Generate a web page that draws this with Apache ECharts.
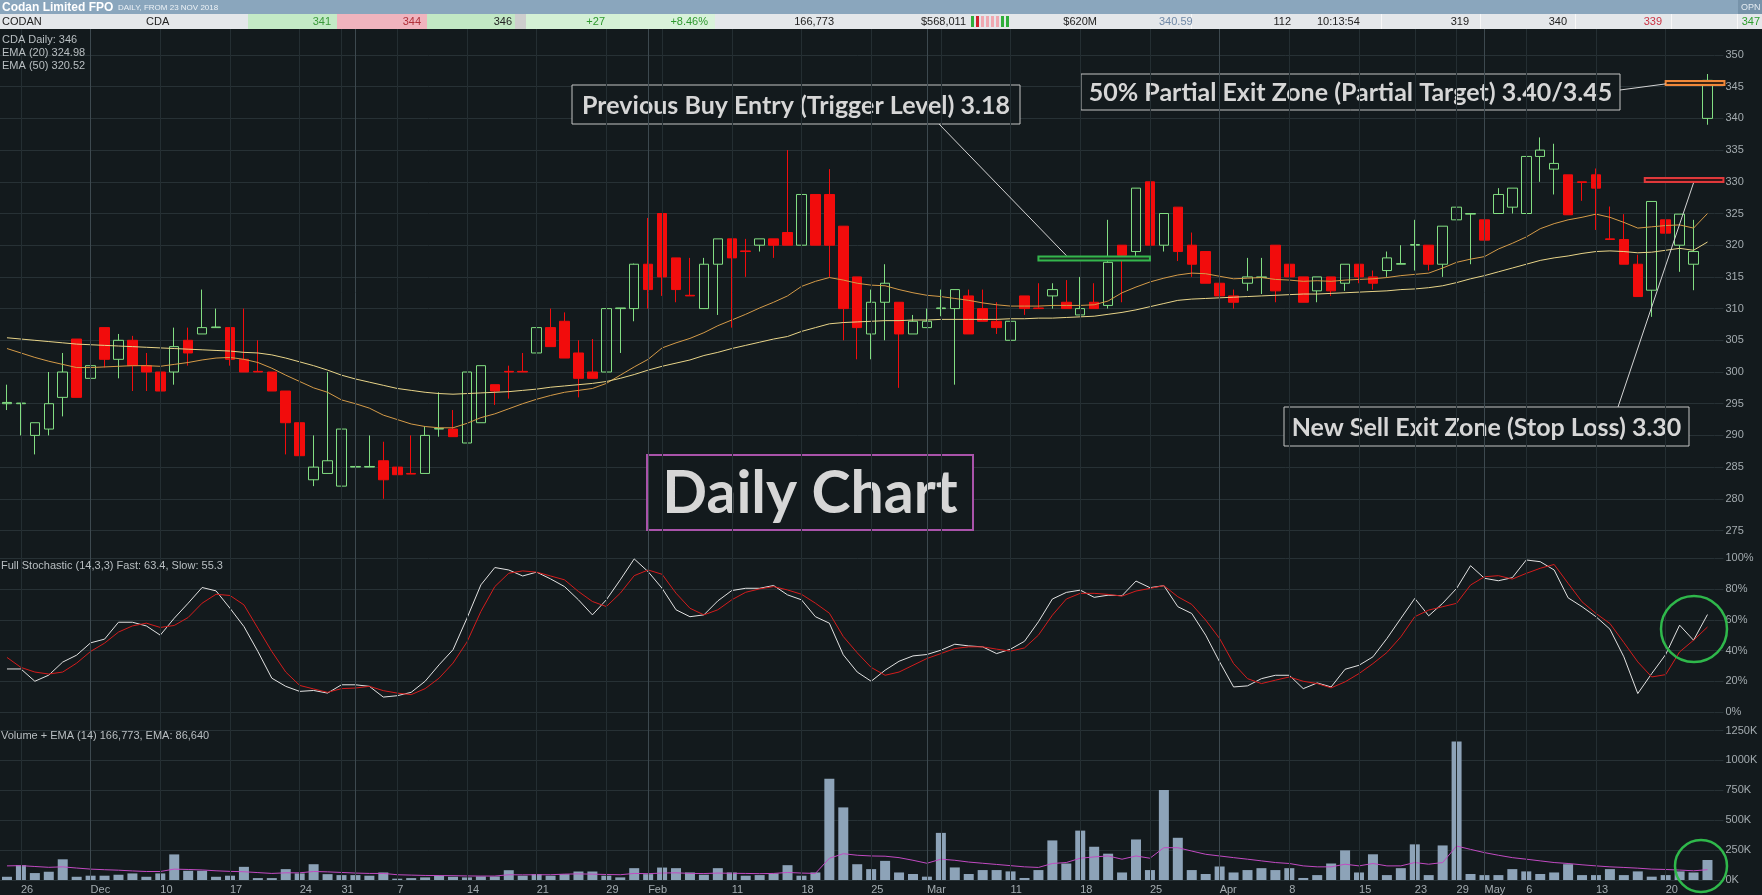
<!DOCTYPE html>
<html>
<head>
<meta charset="utf-8">
<title>Codan Limited FPO - Daily Chart</title>
<script src="https://cdn.jsdelivr.net/npm/echarts/dist/echarts.min.js"></script>
<style>
html,body{margin:0;padding:0;background:#131a1d;overflow:hidden;}
#c{width:1762px;height:895px;}
</style>
</head>
<body>
<div id="c"></div>
<script>
// ---------------- DATA ----------------
const dates = [
'2018-11-23','2018-11-26','2018-11-27','2018-11-28','2018-11-29','2018-11-30',
'2018-12-03','2018-12-04','2018-12-05','2018-12-06','2018-12-07','2018-12-10','2018-12-11','2018-12-12','2018-12-13','2018-12-14','2018-12-17','2018-12-18','2018-12-19','2018-12-20','2018-12-21','2018-12-24','2018-12-27','2018-12-28','2018-12-31',
'2019-01-02','2019-01-03','2019-01-04','2019-01-07','2019-01-08','2019-01-09','2019-01-10','2019-01-11','2019-01-14','2019-01-15','2019-01-16','2019-01-17','2019-01-18','2019-01-21','2019-01-22','2019-01-23','2019-01-24','2019-01-25','2019-01-29','2019-01-30','2019-01-31',
'2019-02-01','2019-02-04','2019-02-05','2019-02-06','2019-02-07','2019-02-08','2019-02-11','2019-02-12','2019-02-13','2019-02-14','2019-02-15','2019-02-18','2019-02-19','2019-02-20','2019-02-21','2019-02-22','2019-02-25','2019-02-26','2019-02-27','2019-02-28',
'2019-03-01','2019-03-04','2019-03-05','2019-03-06','2019-03-07','2019-03-08','2019-03-11','2019-03-12','2019-03-13','2019-03-14','2019-03-15','2019-03-18','2019-03-19','2019-03-20','2019-03-21','2019-03-22','2019-03-25','2019-03-26','2019-03-27','2019-03-28','2019-03-29',
'2019-04-01','2019-04-02','2019-04-03','2019-04-04','2019-04-05','2019-04-08','2019-04-09','2019-04-10','2019-04-11','2019-04-12','2019-04-15','2019-04-16','2019-04-17','2019-04-18','2019-04-23','2019-04-24','2019-04-26','2019-04-29','2019-04-30',
'2019-05-01','2019-05-02','2019-05-03','2019-05-06','2019-05-07','2019-05-08','2019-05-09','2019-05-10','2019-05-13','2019-05-14','2019-05-15','2019-05-16','2019-05-17','2019-05-20','2019-05-21','2019-05-22','2019-05-23'
];

const openP = [
295,295,290,291,296,305.2,299,307,302,305,
301,300,300,305,306,307,307,302,300.1,300,
297,292,283,284,282,285,285,286,285,284,
284,291,291,288.8,292,298,300.1,300.1,303,307,
308,303,300,300,310,310,317,325,318,312.1,
310,317,321,319.1,320,321,322,320,328,328,
323,315,306,311,311,306,307,310,310,312,
310,308,305,312,310.1,312,311,309,311,310.5,
320,319,330,320,326,320,319,314,312,314,
314.9,320,317,315,312.8,315,314,317,315,316,
317,320,320,317,324,324.9,324,325,326,325,
334,332,331.1,330,331.1,321,320.9,317,312.9,324,
320,317,340];

const highP = [
298,295.1,292,300,303,305.2,305,307,306,305.7,
303,300,307,307,313,310,307,310,305,300,
297,292,290,300,291,294,290,289,292,290,
291.4,296.8,294,300,301,298,301,303,310,310,
309.4,305,305.2,310,310.1,317.1,324.3,325,318,318,
318,321,321,321,321,321,335,328,328,332,
323,315,313,317,311,309,310,313,313,313,
313,311,312,312,314,314,314.5,315,314,324,
320,329,330,325,326,322,319,314,313,318,
318,320,318,315,315,315,317,317,316,319,
320,324,320,323,326,325,325,329,329,334,
337,336,331.1,330,332.1,326.1,324.9,318.5,326.9,329.8,
324.9,324,347];

const lowP = [
294,290,287,290,293,296,296,300.7,299,297,
297,296,298,301,306,307,301,300,300,297,
287,283,282,284,282,285,285,280,283.8,283.9,
284,289.8,289.8,288.8,292,294.8,295.8,300,303,304,
302.2,296,299,299,303,308,310,312,311,312,
310,309,307,315,319,318,320,320,320,315,
305,302,302,305,297.5,306,307,308.8,298,306,
308,306,303,309,310,310,310,309,310,310,
311,317.7,320,319,317.5,315,314,310,310,312.8,
312.3,311,314,311,311,312,312.8,314,313,315,
317,316,316,315,322,317,320,325,325,323,
330,328,324.8,327,322.4,320.9,317,311.9,308.7,314,
315.8,312.9,339];

const closeP = [
295.2,295.1,292,295,300,296,301,302,305,301,
300,297,304,303,307,307.1,302,300,300,297,
292,286.8,285,286,291,285.1,285.1,283,283.8,283.9,
290,291.1,289.8,300,301,297,300,300,307,304,
302.2,299,299,310,310.1,317,313,315,313,312,
317,321,318,319,321,320,320,328,320,320,
310,307,311,314,306,308,308,310.1,313,306,
308,307,308,310,310,313,310,310,310,317.3,
318.4,329,320,325,319,317,314,312,311,315,
315,312.8,315,311,315,312.8,317,315,314,318,
317.1,320.1,317,323,326,325,320.8,328,329,334,
335,332.9,324.8,329.9,329,320.9,317,311.9,326.9,321.9,
324.9,319,346];

const ema20 = [
303.7,303.0,302.3,301.7,301.2,300.7,300.7,300.8,300.9,301.0,
301.0,300.9,301.2,301.5,301.9,302.2,302.3,302.0,301.5,300.6,
299.5,298.5,297.5,296.8,295.6,295.0,294.3,293.2,292.5,291.8,
291.4,291.2,291.2,291.9,292.8,293.4,294.2,295.0,295.7,296.3,
296.8,297.1,297.4,298.2,299.5,300.8,302.0,303.8,304.6,305.3,
306.2,307.3,308.2,309.1,310.1,311.0,312.0,313.5,314.3,314.9,
314.5,314.0,313.7,313.6,313.0,312.5,312.1,311.9,311.6,311.3,
310.9,310.6,310.4,310.4,310.4,310.5,310.5,310.5,310.6,311.2,
312.5,313.4,314.2,314.8,315.3,315.6,315.5,315.1,314.7,314.8,
314.9,314.6,314.5,314.3,314.4,314.3,314.5,314.6,314.7,314.9,
315.2,315.4,315.6,316.4,317.3,317.8,318.2,319.4,320.3,321.3,
322.6,323.4,324.0,324.4,324.9,324.4,323.6,322.7,322.9,323.1,
323.2,322.7,325.0];

const ema50 = [
305.4,305.2,305.0,304.8,304.6,304.4,304.3,304.2,304.1,304.0,
303.9,303.8,303.7,303.6,303.5,303.4,303.3,303.1,303.0,302.7,
302.2,301.6,301.0,300.3,299.5,298.9,298.4,297.9,297.4,297.1,
296.8,296.6,296.5,296.6,296.7,296.8,296.9,297.1,297.3,297.6,
297.8,298.0,298.2,298.5,299.0,299.6,300.3,300.9,301.4,301.9,
302.6,303.1,303.7,304.2,304.7,305.2,305.6,306.4,307.0,307.6,
307.8,307.9,308.0,308.1,308.1,308.2,308.2,308.3,308.3,308.3,
308.3,308.3,308.4,308.4,308.5,308.5,308.6,308.7,308.8,309.1,
309.4,309.8,310.3,310.8,311.3,311.5,311.6,311.7,311.8,311.9,
312.0,312.1,312.2,312.3,312.3,312.4,312.5,312.6,312.7,312.8,
313.0,313.1,313.3,313.6,314.1,314.7,315.2,315.8,316.4,317.0,
317.6,318.0,318.3,318.7,319.0,319.1,319.0,318.8,318.9,319.2,
319.5,319.2,320.5];

const stochFast = [
28,28,20,24,32.5,37,45,47.4,58.4,58.4,
56,50,61,70.8,81,78.8,67.5,55.6,39.4,22,
16.7,13.4,14,12.3,17.7,17.7,16.7,9.7,10.6,12.8,
20,30.7,40.5,61,82.7,94,92.4,88.5,91,86.6,
81.6,73,63.2,73,86,99.6,91.3,80.5,66.5,62,
63.2,72.3,79,80.5,80.5,82.3,76.2,73,62,57.8,
37.2,26,20,27.2,33,36.5,37.4,40.2,44.1,43,
42.4,38,40.9,46,58.7,73.5,77.8,79.3,74.6,76,
75.7,85.2,80.9,82.2,68.5,64.1,50,32.6,16.3,17,
21.7,23.9,23.9,15.2,18.9,16.3,27.8,30.4,35.9,47.8,
60.9,73.9,62.6,70.7,80.4,95.2,87,85.4,87.4,98.9,
97.8,92.4,74.3,68.5,62,53.9,35.9,12,25,37.4,
56.5,46.7,63.4];

const stochSlow = [
35.5,29,26,24.7,26,31.8,39.4,44.8,52,56,
57.8,55,56.3,61.5,70.8,76.6,75.8,69.7,54.5,39.4,
26,17.3,15,12.8,15.2,15.6,16.7,13.9,12.3,11.3,
15.2,22,31.8,45.5,65.4,81.6,90.3,91.8,91,88.5,
86,78.4,71.9,68.6,77.3,88.7,92.4,89.6,77.3,67.5,
63.2,66.5,73,77.9,80.1,81.6,79.4,76.6,70.8,64.3,
49.1,38.5,29,23.9,26,30.4,34.8,38,41.3,42.4,
42.4,40.9,39.6,41.7,50,63,73.5,77.2,77.2,76.5,
75.4,78.7,80.4,82.2,75,70,59.8,47.8,31.5,21.7,
18.5,20.7,22.8,20,18.5,15.7,19.6,25,31.5,38.7,
48.9,62,66.3,68.5,70.7,82.6,88,88.7,86.5,90.2,
93.5,96,83.7,71.7,64.1,57.6,45.2,32.6,22.8,24.3,
39.1,46.7,55.3];

// volume and its EMA, in thousands of shares
const volumeK = [
27,124,58,69,173,27,36,36,44,55,
27,55,214,77,77,27,36,110,16,16,
91,55,132,49,41,41,36,63,11,16,
22,36,27,22,30,30,82,36,49,36,
49,71,71,36,22,99,49,104,99,63,
44,99,63,36,41,55,124,36,63,846,
607,132,91,160,63,50,28,394,105,50,
83,83,72,17,83,331,138,413,278,220,
63,339,83,752,353,83,50,113,63,83,
99,83,99,17,41,138,248,63,215,41,
99,298,41,289,1157,50,41,41,91,72,
50,63,132,41,41,91,41,72,28,41,
72,63,167];

const volumeEmaK = [
118,120,113,106,110,100,91,86,82,76,
71,71,91,88,84,77,72,69,62,55,
60,60,71,68,63,58,55,55,44,41,
38,37,36,34,33,33,44,43,44,44,
49,51,49,46,44,55,53,58,60,55,
54,58,56,55,53,55,63,58,55,181,
220,207,201,199,187,165,140,174,165,150,
140,130,120,110,105,138,146,182,193,201,
174,201,182,270,270,242,215,201,187,174,
160,146,138,118,110,110,132,118,138,118,
118,146,132,146,284,256,229,207,187,174,
160,146,138,127,118,110,105,99,91,88,
83,77,86];

// x-axis tick labels
const tickDates = ['2018-11-26','2018-12-03','2018-12-10','2018-12-17','2018-12-24','2018-12-31','2019-01-07','2019-01-14','2019-01-21','2019-01-29','2019-02-01','2019-02-11','2019-02-18','2019-02-25','2019-03-01','2019-03-11','2019-03-18','2019-03-25','2019-04-01','2019-04-08','2019-04-15','2019-04-23','2019-04-29','2019-05-01','2019-05-06','2019-05-13','2019-05-20'];
const tickTexts = ['26','Dec','10','17','24','31','7','14','21','29','Feb','11','18','25','Mar','11','18','25','Apr','8','15','23','29','May','6','13','20'];
const weekLineDates = ['2018-11-26','2018-12-10','2018-12-17','2018-12-24','2018-12-31','2019-01-07','2019-01-14','2019-01-21','2019-01-29','2019-02-04','2019-02-11','2019-02-18','2019-02-25','2019-03-04','2019-03-11','2019-03-18','2019-03-25','2019-04-08','2019-04-15','2019-04-23','2019-04-29','2019-05-06','2019-05-13','2019-05-20'];
const monthLineDates = ['2018-12-03','2019-01-02','2019-02-01','2019-03-01','2019-04-01','2019-05-01'];

// annotation price levels (cents)
const buyLevel = 317.9, stopLevel = 330.3, targetLevel = 345.6;
const buyFrom = '2019-03-13', buyTo = '2019-03-25';
const stopFrom = '2019-05-17', targetFrom = '2019-05-20';
const buyLeaderDate = '2019-03-15', stopLeaderDate = '2019-05-22';

// ---------------- CHART ----------------
const FONT = "'Liberation Sans Narrow','Liberation Sans',sans-serif";
const BG = '#131a1d';
const GRIDC = '#273135';
const chart = echarts.init(document.getElementById('c'), null, {width:1762, height:895});

const grids = [
  {left:-1.4, width:1715.85, top:23.3, height:538.9},
  {left:-1.4, width:1715.85, top:558.3, height:153.7},
  {left:-1.4, width:1715.85, top:700.6, height:180.4}
];

const xAxes = grids.map((g, gi) => ({
  type:'category', gridIndex:gi, data:dates, boundaryGap:true,
  axisLine:{show:false}, axisTick:{show:false}, splitLine:{show:false},
  axisLabel: gi === 2 ? {
    show:true, interval:(idx, val) => tickDates.indexOf(val) >= 0,
    formatter:(val) => tickTexts[tickDates.indexOf(val)],
    color:'#a3abaf', fontSize:11, fontFamily:FONT, align:'left', margin:4
  } : {show:false}
}));

const yCommon = {
  position:'right', axisLine:{show:false},
  axisTick:{show:true, length:9, lineStyle:{color:GRIDC}},
  splitLine:{show:true, lineStyle:{color:GRIDC, width:1}},
  axisLabel:{color:'#a3abaf', fontSize:11, fontFamily:FONT, margin:11}
};
const yAxes = [
  Object.assign({}, yCommon, {gridIndex:0, type:'value', min:270, max:355, interval:5,
    splitLine:{show:true, showMinLine:false, showMaxLine:false, lineStyle:{color:GRIDC}},
    axisLabel:Object.assign({}, yCommon.axisLabel, {showMinLabel:false, showMaxLabel:false})}),
  Object.assign({}, yCommon, {gridIndex:1, type:'value', min:0, max:100, interval:20,
    axisLabel:Object.assign({}, yCommon.axisLabel, {formatter:'{value}%'})}),
  Object.assign({}, yCommon, {gridIndex:2, type:'value', min:0, max:1500000, interval:250000,
    splitLine:{show:true, showMaxLine:false, lineStyle:{color:GRIDC}},
    axisLabel:Object.assign({}, yCommon.axisLabel, {showMaxLabel:false, formatter:(v) => (v/1000) + 'K'})})
];

const vLines = weekLineDates.map(d => ({xAxis:d, lineStyle:{color:'#242e32', width:1, type:'solid'}}))
  .concat(monthLineDates.map(d => ({xAxis:d, lineStyle:{color:'#3d494f', width:1, type:'solid'}})));

const gridLineSeries = [0,1,2].map(gi => ({
  type:'line', xAxisIndex:gi, yAxisIndex:gi, data:dates.map(() => null), symbol:'none',
  lineStyle:{opacity:0}, silent:true, z:1,
  markLine:{symbol:['none','none'], silent:true, label:{show:false}, animation:false, data:vLines}
}));

const candleData = dates.map((d, i) => [openP[i], closeP[i], lowP[i], highP[i]]);

chart.setOption({
  backgroundColor:BG,
  animation:false,
  grid:grids,
  xAxis:xAxes,
  yAxis:yAxes,
  series: gridLineSeries.concat([
    {type:'candlestick', name:'CDA', xAxisIndex:0, yAxisIndex:0, data:candleData, barWidth:10, z:3,
      itemStyle:{color:'rgba(0,0,0,0)', color0:'#f20c0c', borderColor:'#82de82', borderColor0:'#f20c0c', borderWidth:1}},
    {type:'line', name:'EMA (20)', xAxisIndex:0, yAxisIndex:0, data:ema20, symbol:'none', z:4,
      lineStyle:{color:'#d49a48', width:1}},
    {type:'line', name:'EMA (50)', xAxisIndex:0, yAxisIndex:0, data:ema50, symbol:'none', z:4,
      lineStyle:{color:'#e8d488', width:1}},
    {type:'line', name:'Fast', xAxisIndex:1, yAxisIndex:1, data:stochFast, symbol:'none', z:4,
      lineStyle:{color:'#e2e2e2', width:1}},
    {type:'line', name:'Slow', xAxisIndex:1, yAxisIndex:1, data:stochSlow, symbol:'none', z:4,
      lineStyle:{color:'#d41c1c', width:1}},
    {type:'bar', name:'Volume', xAxisIndex:2, yAxisIndex:2, data:volumeK.map(v => v*1000), barWidth:10, z:2,
      itemStyle:{color:'#8da3b8'}},
    {type:'line', name:'Volume EMA', xAxisIndex:2, yAxisIndex:2, data:volumeEmaK.map(v => v*1000), symbol:'none', z:4,
      lineStyle:{color:'#c24ac2', width:1}}
  ])
});

// ---------------- ANNOTATIONS ----------------
const P = (d, v) => chart.convertToPixel({xAxisIndex:0, yAxisIndex:0}, [d, v]);
const band = P(dates[1], 300)[0] - P(dates[0], 300)[0];
const plotRight = P(dates[dates.length-1], 300)[0] + band/2;

function zoneRect(x1, x2, level, stroke, fill) {
  const yc = P(dates[0], level)[1];
  return {type:'rect', z:60, shape:{x:x1, y:yc-2, width:x2-x1, height:4},
    style:{fill:fill, stroke:stroke, lineWidth:2}};
}
function box(x, y, w, h, txt, size, stroke, lw) {
  return {type:'group', z:70, children:[
    {type:'rect', shape:{x:x, y:y, width:w, height:h}, style:{fill:BG, stroke:stroke, lineWidth:lw}},
    {type:'text', style:{text:txt, x:x+w/2, y:y+h/2+1, align:'center', verticalAlign:'middle',
      textAlign:'center', textVerticalAlign:'middle', fill:'#d6d6d6',
      font:'bold ' + size + "px Lato, 'Open Sans', sans-serif"}}
  ]};
}
function lineEl(x1, y1, x2, y2) {
  return {type:'line', z:65, shape:{x1:x1, y1:y1, x2:x2, y2:y2}, style:{stroke:'#d4d4d4', lineWidth:1}};
}
function txt(x, y, s, opts) {
  return {type:'text', z:110, style:Object.assign({text:s, x:x, y:y, verticalAlign:'middle', textVerticalAlign:'middle',
    fill:'#333', font:"11px " + FONT}, opts || {})};
}
function rectEl(x, y, w, h, fill, z) {
  return {type:'rect', z:z || 100, shape:{x:x, y:y, width:w, height:h}, style:{fill:fill}};
}

const buyX1 = P(buyFrom, buyLevel)[0], buyX2 = P(buyTo, buyLevel)[0];
const stopX1 = P(stopFrom, stopLevel)[0] - band/2;
const targetX1 = P(targetFrom, targetLevel)[0];
const buyTopY = P(buyFrom, buyLevel)[1] - 3;
const stopBotY = P(stopFrom, stopLevel)[1] + 3;
const targetY = P(targetFrom, targetLevel)[1] + 1;

const g = [];
// zones
g.push(zoneRect(buyX1, buyX2, buyLevel, '#34b64d', '#1d2e22'));
g.push(zoneRect(stopX1, plotRight + 9, stopLevel, '#e0393b', '#3b1618'));
g.push(zoneRect(targetX1, plotRight + 10, targetLevel, '#f0883a', '#3a2414'));
// leader lines
g.push(lineEl(939, 124, P(buyLeaderDate, buyLevel)[0], buyTopY));
g.push(lineEl(1620, 90, targetX1, targetY));
g.push(lineEl(1618, 407, P(stopLeaderDate, stopLevel)[0], stopBotY));
// text boxes
g.push(box(572, 85, 448, 39, 'Previous Buy Entry (Trigger Level) 3.18', 25, '#c4c4c4', 1));
g.push(box(1081, 74, 539, 36, '50% Partial Exit Zone (Partial Target) 3.40/3.45', 25, '#c4c4c4', 1));
g.push(box(1284, 407, 405, 39, 'New Sell Exit Zone (Stop Loss) 3.30', 25, '#c4c4c4', 1));
g.push(box(647, 455, 326, 75, 'Daily Chart', 59, '#a953aa', 2));
// highlight circles
g.push({type:'circle', z:66, shape:{cx:1694, cy:629, r:33}, style:{fill:'none', stroke:'#2fb84b', lineWidth:2.5}});
g.push({type:'circle', z:66, shape:{cx:1701, cy:866, r:26}, style:{fill:'none', stroke:'#2fb84b', lineWidth:2.5}});

// panel captions
const capStyle = {fill:'#b9bfc2', font:"11px " + FONT};
g.push(txt(2, 40, 'CDA Daily: 346', capStyle));
g.push(txt(2, 53, 'EMA (20) 324.98', capStyle));
g.push(txt(2, 66, 'EMA (50) 320.52', capStyle));
g.push(txt(1, 566, 'Full Stochastic (14,3,3) Fast: 63.4, Slow: 55.3', capStyle));
g.push(txt(1, 736, 'Volume + EMA (14) 166,773, EMA: 86,640', capStyle));

// header bands
g.push(rectEl(0, 0, 1762, 14, '#8aa6bd'));
g.push(rectEl(1738, 0, 24, 14, '#7793aa', 101));
g.push(txt(2, 7.5, 'Codan Limited FPO', {fill:'#ffffff', font:"bold 12px " + FONT}));
g.push(txt(118, 8, 'DAILY, FROM 23 NOV 2018', {fill:'#eef3f7', font:"8px " + FONT}));
g.push(txt(1741, 7.5, 'OPN', {fill:'#e3ebf1', font:"9px " + FONT}));
g.push(rectEl(0, 14, 1762, 15, '#e4e7ea'));
g.push(rectEl(248, 14, 89, 15, '#c4eac6', 101));
g.push(rectEl(337, 14, 90, 15, '#f0b4be', 101));
g.push(rectEl(427, 14, 88, 15, '#c2e8c4', 101));
g.push(rectEl(515, 14, 11, 15, '#cdcdcd', 101));
g.push(rectEl(526, 14, 94, 15, '#d4f0d5', 101));
g.push(rectEl(620, 14, 95, 15, '#d9f2da', 101));
[1191, 1381, 1480, 1575, 1671, 1737].forEach(x => g.push(rectEl(x, 14, 1, 15, '#f7f7f7', 102)));
const miniColors = ['#2fae3a','#d0202c','#f0a8b0','#f0a8b0','#f0a8b0','#f0a8b0','#2fae3a','#2fae3a'];
miniColors.forEach((c, k) => g.push(rectEl(971 + k*5, 16, 3, 11, c, 102)));
const rowY = 21.5;
g.push(txt(2, rowY, 'CODAN', {fill:'#222'}));
g.push(txt(146, rowY, 'CDA', {fill:'#222'}));
g.push(txt(331, rowY, '341', {fill:'#3b9a3b', align:'right', textAlign:'right'}));
g.push(txt(421, rowY, '344', {fill:'#b0303a', align:'right', textAlign:'right'}));
g.push(txt(512, rowY, '346', {fill:'#222', align:'right', textAlign:'right'}));
g.push(txt(605, rowY, '+27', {fill:'#2f9a2f', align:'right', textAlign:'right'}));
g.push(txt(708, rowY, '+8.46%', {fill:'#2f9a2f', align:'right', textAlign:'right'}));
g.push(txt(834, rowY, '166,773', {fill:'#222', align:'right', textAlign:'right'}));
g.push(txt(966, rowY, '$568,011', {fill:'#222', align:'right', textAlign:'right'}));
g.push(txt(1097, rowY, '$620M', {fill:'#222', align:'right', textAlign:'right'}));
g.push(txt(1159, rowY, '340.59', {fill:'#6f88a6'}));
g.push(txt(1291, rowY, '112', {fill:'#222', align:'right', textAlign:'right'}));
g.push(txt(1317, rowY, '10:13:54', {fill:'#222'}));
g.push(txt(1469, rowY, '319', {fill:'#222', align:'right', textAlign:'right'}));
g.push(txt(1567, rowY, '340', {fill:'#222', align:'right', textAlign:'right'}));
g.push(txt(1662, rowY, '339', {fill:'#cc3344', align:'right', textAlign:'right'}));
g.push(txt(1760, rowY, '347', {fill:'#2e9e2e', align:'right', textAlign:'right'}));

chart.setOption({graphic:g});
</script>
</body>
</html>
